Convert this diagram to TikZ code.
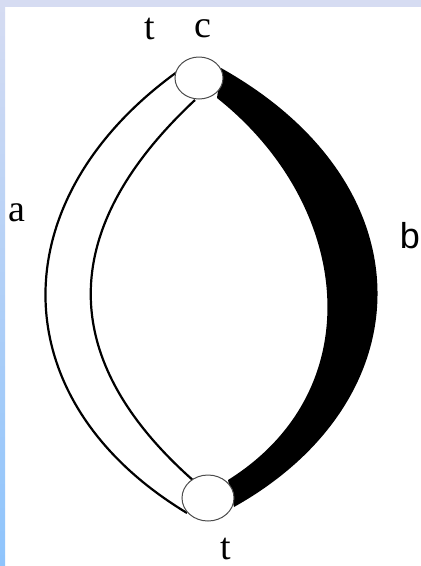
\documentclass[tikz,border=0pt]{standalone}
\usepackage{fontspec}
\setmainfont{Liberation Serif}
\newfontfamily\lblsans{Liberation Sans}
\definecolor{topband}{HTML}{D6DCF2}
\definecolor{leftbot}{HTML}{8EC4FC}
\begin{document}
\begin{tikzpicture}[x=1pt,y=-1pt,
  lbl/.style={font=\fontsize{38}{44}\selectfont, inner sep=0pt, anchor=base},
  thinline/.style={line width=2.2pt, black},
  junction/.style={draw=black!70, line width=1pt, fill=white}]
\useasboundingbox (0,0) rectangle (421,566);
\fill[white] (0,0) rectangle (421,566);
\shade[top color=topband, bottom color=leftbot] (0,0) rectangle (5,566);
\fill[topband] (0,0) rectangle (421,7);
% coordinates
\coordinate (ao1) at (177,72);
\coordinate (ao2) at (187,513);
\coordinate (ai1) at (195,100);
\coordinate (ai2) at (195,482);
\coordinate (bo1) at (221,68);
\coordinate (bo2) at (234,507);
\coordinate (bi1) at (217,98);
\coordinate (bi2) at (228,480);
% black band b
\fill[black] (bo1) .. controls (430,185) and (425,400) .. (bo2)
  -- (bi2) .. controls (372,390) and (352,205) .. (bi1) -- cycle;
% white band a
\draw[thinline] (ao1) .. controls (0,200) and (0,400) .. (ao2);
\draw[thinline] (ai1) .. controls (56,230) and (56,360) .. (ai2);
% junctions
\draw[junction] (199,78) ellipse [x radius=24, y radius=21];
\draw[junction] (208,498) ellipse [x radius=26, y radius=23];
% labels
\node[lbl] (lt) at (150,39) {t};
\node[lbl] (lc) at (203,37) {c};
\node[lbl] (la) at (17,221) {a};
\node[lbl, font=\lblsans\fontsize{36}{42}\selectfont] (lb) at (410,248) {b};
\node[lbl] (lt2) at (226,559) {t};
\end{tikzpicture}
\end{document}
